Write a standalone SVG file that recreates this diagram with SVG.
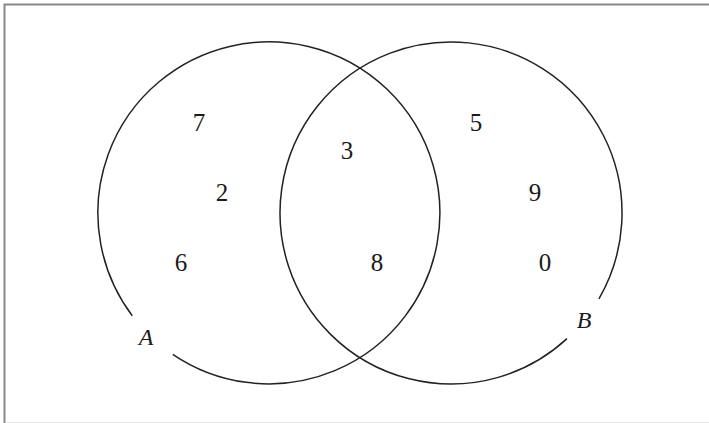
<svg xmlns="http://www.w3.org/2000/svg" width="709" height="423" viewBox="0 0 709 423">
<style>
.set{fill:none;stroke:#222;stroke-width:1.5}
.num{font-family:"Liberation Serif","Times New Roman",serif;font-size:25px;fill:#1a1a1a;text-anchor:middle}
.lbl{font-family:"Liberation Serif","Times New Roman",serif;font-size:24px;font-style:italic;fill:#1a1a1a;text-anchor:middle}
</style>
<rect width="709" height="423" fill="#fff"/>
<g id="frame">
<path d="M4.5,423 V4.5 H709" fill="none" stroke="#888" stroke-width="2"/>
<path d="M6,422.5 H709" fill="none" stroke="#e4e4e4" stroke-width="1"/>
</g>
<g id="setA">
<path class="set" d="M132.25,315.7 A171,171 0 1 1 172.76,354.3"/>
<text class="lbl" x="146" y="345">A</text>
</g>
<g id="setB">
<path class="set" d="M566.97,338.67 A171,171 0 1 1 598.95,298.76"/>
<text class="lbl" x="584" y="328">B</text>
</g>
<g id="elements">
<text class="num" x="199" y="131">7</text>
<text class="num" x="222" y="201">2</text>
<text class="num" x="181" y="271">6</text>
<text class="num" x="347" y="159">3</text>
<text class="num" x="377" y="271">8</text>
<text class="num" x="476" y="131">5</text>
<text class="num" x="535" y="201">9</text>
<text class="num" x="545" y="271">0</text>
</g>
</svg>
